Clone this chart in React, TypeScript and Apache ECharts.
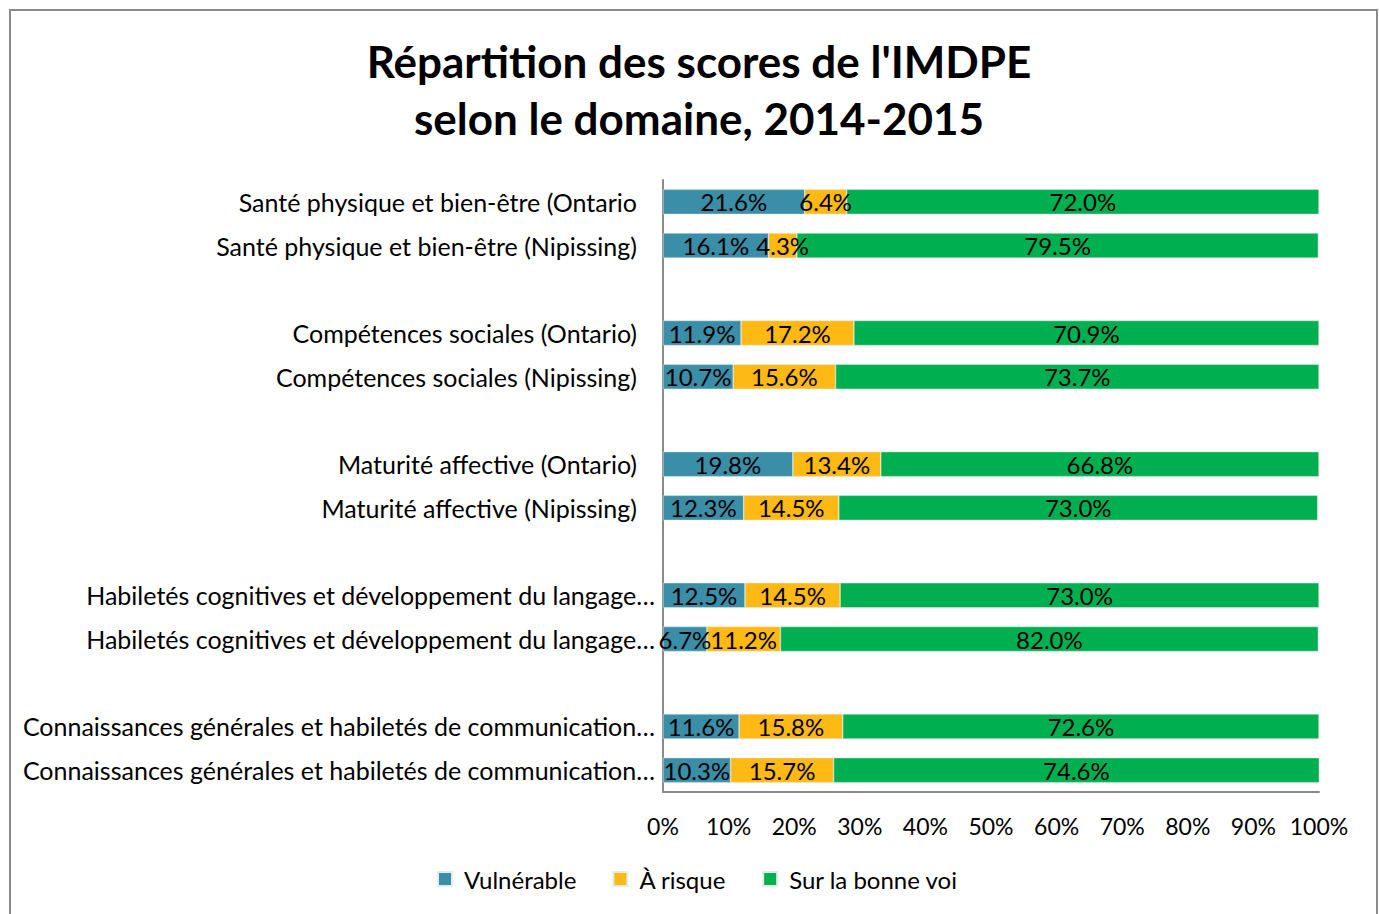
import React, { useEffect, useRef } from "react";
import * as echarts from "echarts";

const categories = [
  "Santé physique et bien-être (Ontario",
  "Santé physique et bien-être (Nipissing)",
  "",
  "Compétences sociales (Ontario)",
  "Compétences sociales (Nipissing)",
  " ",
  "Maturité affective (Ontario)",
  "Maturité affective (Nipissing)",
  "  ",
  "Habiletés cognitives et développement du langage…",
  "Habiletés cognitives et développement du langage… ",
  "   ",
  "Connaissances générales et habiletés de communication…",
  "Connaissances générales et habiletés de communication… ",
];

const vulnerable = [21.6, 16.1, null, 11.9, 10.7, null, 19.8, 12.3, null, 12.5, 6.7, null, 11.6, 10.3];
const aRisque = [6.4, 4.3, null, 17.2, 15.6, null, 13.4, 14.5, null, 14.5, 11.2, null, 15.8, 15.7];
const surLaBonneVoie = [72.0, 79.5, null, 70.9, 73.7, null, 66.8, 73.0, null, 73.0, 82.0, null, 72.6, 74.6];

const seriesNames = ["Vulnérable", "À risque", "Sur la bonne voi"];
const seriesColors = ["#3A8EA8", "#FFB914", "#00B050"];
const xTicks = { min: 0, max: 100, interval: 10 };
const titleLines = ["Répartition des scores de l'IMDPE", "selon le domaine, 2014-2015"];

const FONT = "Lato, 'Noto Sans', sans-serif";

export default function App() {
  const ref = useRef<HTMLDivElement>(null);
  useEffect(() => {
    document.body.style.margin = "0";
    const chart = echarts.init(ref.current!, null, { renderer: "svg" });
    const datasets = [vulnerable, aRisque, surLaBonneVoie];
    const labelFont = { fontFamily: FONT, fontSize: 25, color: "#000" };
    chart.setOption({
      animation: false,
      backgroundColor: "#ffffff",
      textStyle: { fontFamily: FONT },
      title: {
        text: titleLines.join("\n"),
        left: 694,
        textAlign: "center",
        top: 27,
        textStyle: {
          fontFamily: FONT,
          fontSize: 44,
          fontWeight: "bold",
          color: "#000",
          lineHeight: 57,
        },
      },
      graphic: [
        {
          type: "rect",
          shape: { x: 10, y: 10, width: 1367, height: 1000 },
          style: { fill: "none", stroke: "#8a8a8a", lineWidth: 2 },
          silent: true,
          z: -1,
        },
      ],
      legend: {
        bottom: 18,
        left: 432,
        itemWidth: 14,
        itemHeight: 14,
        itemGap: 36,
        icon: "rect",
        textStyle: { fontFamily: FONT, fontSize: 24, color: "#000", padding: [0, 0, 0, 7] },
        data: seriesNames,
      },
      grid: { left: 663, right: 60, top: 180, bottom: 122, containLabel: false },
      xAxis: {
        type: "value",
        min: xTicks.min,
        max: xTicks.max,
        interval: xTicks.interval,
        axisLine: { show: true, lineStyle: { color: "#8a8a8a", width: 2 } },
        axisTick: { show: false },
        splitLine: { show: false },
        axisLabel: {
          formatter: "{value}%",
          fontFamily: FONT,
          fontSize: 23,
          color: "#000",
          margin: 22,
        },
      },
      yAxis: {
        type: "category",
        inverse: true,
        data: categories,
        axisLine: { show: true, lineStyle: { color: "#8a8a8a", width: 2 } },
        axisTick: { show: false },
        axisLabel: {
          ...labelFont,
          margin: 8,
          formatter: (v: string) => {
            const t = v.trim();
            if (!t) return "";
            return t.endsWith("…") ? `{e|${t}}` : `{n|${t}}`;
          },
          rich: {
            e: { ...labelFont },
            n: { ...labelFont, padding: [0, 18, 0, 0] },
          },
        },
      },
      series: seriesNames.map((name, i) => ({
        name,
        type: "bar",
        stack: "total",
        barWidth: 25,
        data: datasets[i],
        itemStyle: { color: seriesColors[i], borderColor: "#dfeee6", borderWidth: 0.5 },
        label: {
          show: true,
          position: "inside",
          color: "#000",
          fontFamily: FONT,
          fontSize: 24,
          formatter: (p: any) => (p.value == null ? "" : Number(p.value).toFixed(1) + "%"),
        },
      })),
    });
    return () => chart.dispose();
  }, []);
  return <div ref={ref} style={{ width: 1379, height: 914 }} />;
}
